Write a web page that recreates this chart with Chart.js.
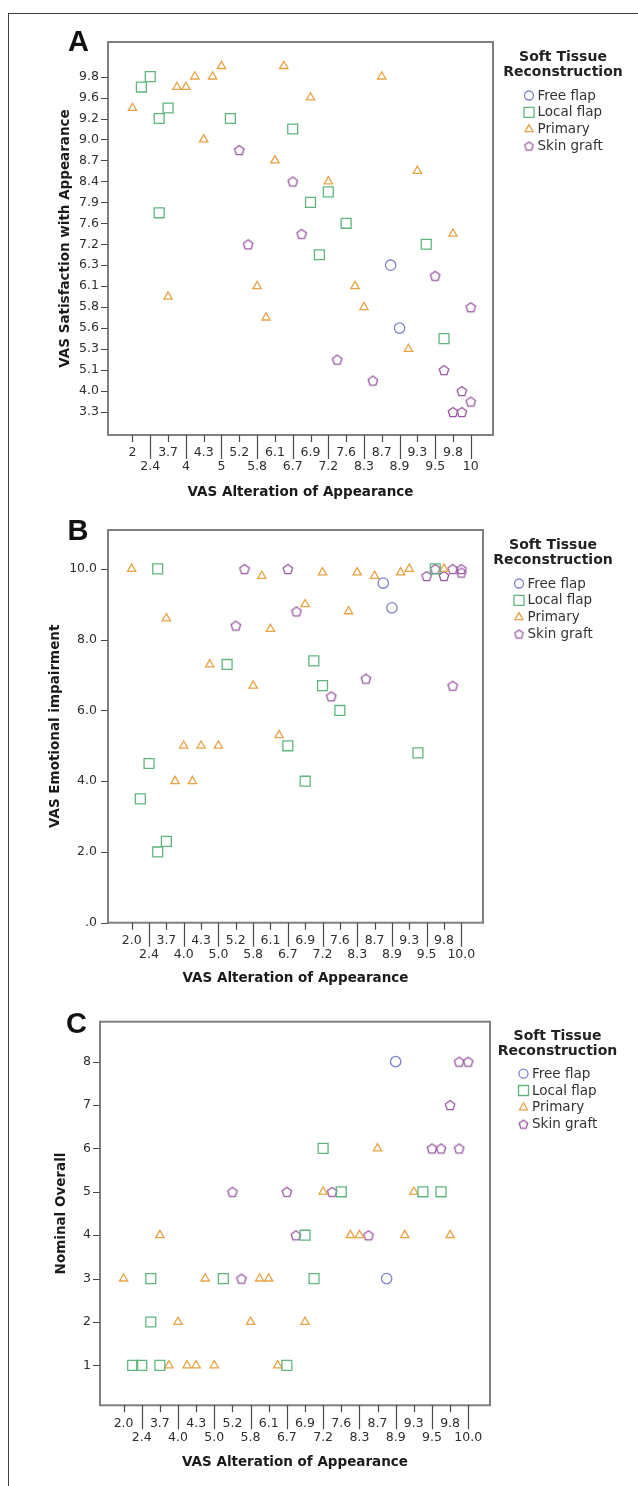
<!DOCTYPE html>
<html>
<head>
<meta charset="utf-8">
<script src="https://cdn.jsdelivr.net/npm/chart.js@4.4.1/dist/chart.umd.min.js"></script>
<style>
  body { margin: 0; background: #fff; }
  #page { position: relative; width: 638px; height: 1486px; overflow: hidden; }
  #frame { position: absolute; left: 8px; top: 13px; width: 700px; height: 1600px;
           border-left: 1.5px solid #3c3c3c; border-top: 1.5px solid #3c3c3c; }
  canvas { position: absolute; left: 0; }
</style>
</head>
<body>
<div id="page">
  <div id="frame"></div>
  <canvas id="chartA" width="638" height="500" style="top:0px"></canvas>
  <canvas id="chartB" width="638" height="486" style="top:500px"></canvas>
  <canvas id="chartC" width="638" height="484" style="top:986px"></canvas>
</div>
<script>
// x categories (VAS Alteration of Appearance); only every other one is labelled
const xCats = [2, 2.2, 2.4, 3.0, 3.7, 3.8, 4.0, 4.1, 4.3, 4.6, 5.0, 5.1, 5.2, 5.5, 5.8, 6.0, 6.1, 6.4, 6.7, 6.8,
               6.9, 7.0, 7.2, 7.4, 7.6, 8.0, 8.3, 8.5, 8.7, 8.8, 8.9, 9.1, 9.3, 9.4, 9.5, 9.6, 9.8, 9.9, 10];
// y categories of panel A (VAS Satisfaction with Appearance)
const yCatsA = [3.3, 3.6, 4.0, 4.5, 5.1, 5.2, 5.3, 5.4, 5.6, 5.7, 5.8, 6.0, 6.1, 6.2, 6.3, 6.8, 7.2, 7.4, 7.6, 7.8,
                7.9, 8.1, 8.4, 8.6, 8.7, 8.8, 9.0, 9.1, 9.2, 9.4, 9.6, 9.7, 9.8, 9.9];
const yTicksB = [0, 2, 4, 6, 8, 10];
const yTicksC = [1, 2, 3, 4, 5, 6, 7, 8];
const groups = ['Free flap', 'Local flap', 'Primary', 'Skin graft'];

// panel A  [alteration, satisfaction]
const aFree = [[8.8, 6.3], [8.9, 5.6]];
const aLocal = [[2.2, 9.7], [2.4, 9.8], [3.0, 9.2], [3.7, 9.4], [3.0, 7.8], [5.1, 9.2], [6.7, 9.1],
                [6.9, 7.9], [7.2, 8.1], [7.6, 7.6], [7.0, 6.8], [9.4, 7.2], [9.6, 5.4]];
const aPrimary = [[2, 9.4], [3.8, 9.7], [4.0, 9.7], [4.1, 9.8], [4.6, 9.8], [5.0, 9.9], [4.3, 9.0], [6.4, 9.9],
                  [6.1, 8.7], [6.9, 9.6], [8.7, 9.8], [7.2, 8.4], [9.3, 8.6], [9.8, 7.4], [3.7, 6.0], [5.8, 6.1],
                  [6.0, 5.7], [8.0, 6.1], [8.3, 5.8], [9.1, 5.3]];
const aSkin = [[5.2, 8.8], [6.7, 8.4], [6.8, 7.4], [5.5, 7.2], [7.4, 5.2], [8.5, 4.5], [9.5, 6.2], [10, 5.8],
               [9.6, 5.1], [9.9, 4.0], [10, 3.6], [9.8, 3.3], [9.9, 3.3]];

// panel B  [alteration, emotional impairment]
const bFree = [[8.8, 9.6], [8.9, 8.9]];
const bLocal = [[3.0, 10.0], [5.1, 7.3], [7.0, 7.4], [7.2, 6.7], [6.7, 5.0], [6.9, 4.0], [2.4, 4.5], [2.2, 3.5],
                [3.0, 2.0], [3.7, 2.3], [9.4, 4.8], [7.6, 6.0], [9.6, 10.0]];
const bPrimary = [[2, 10.0], [6.0, 9.8], [7.2, 9.9], [3.7, 8.6], [6.1, 8.3], [6.9, 9.0], [4.6, 7.3], [5.8, 6.7],
                  [6.4, 5.3], [8.3, 9.9], [8.7, 9.8], [9.1, 9.9], [9.3, 10.0], [8.0, 8.8], [4.0, 5.0], [4.3, 5.0],
                  [5.0, 5.0], [3.8, 4.0], [4.1, 4.0], [9.8, 10.0]];
const bSkin = [[5.5, 10.0], [6.7, 10.0], [5.2, 8.4], [6.8, 8.8], [8.5, 6.9], [7.4, 6.4], [9.9, 6.7], [9.5, 9.8],
               [9.6, 10.0], [9.8, 9.8], [9.9, 10.0], [10, 10.0], [10, 9.9]];

// panel C  [alteration, nominal overall]
const cFree = [[8.9, 8], [8.8, 3]];
const cLocal = [[7.2, 6], [7.6, 5], [9.4, 5], [9.6, 5], [6.9, 4], [3.0, 3], [5.1, 3], [7.0, 3], [3.0, 2],
                [2.2, 1], [2.4, 1], [3.7, 1], [6.7, 1]];
const cPrimary = [[8.7, 6], [7.2, 5], [9.3, 5], [3.7, 4], [8.0, 4], [8.3, 4], [9.1, 4], [9.8, 4], [2, 3], [4.6, 3],
                  [6.0, 3], [6.1, 3], [4.0, 2], [5.8, 2], [6.9, 2], [3.8, 1], [4.1, 1], [4.3, 1], [5.0, 1], [6.4, 1]];
const cSkin = [[9.9, 8], [10, 8], [9.8, 7], [9.5, 6], [9.6, 6], [9.9, 6], [5.2, 5], [6.7, 5], [7.4, 5], [6.8, 4],
               [8.5, 4], [5.5, 3]];

const tickFont = { family: "'DejaVu Sans', sans-serif", size: 12.5 };
const titleFont = { family: "'DejaVu Sans', sans-serif", size: 13.5, weight: 'bold', lineHeight: 1 };
const colors = ['#7d80cf', '#5fb67d', '#e9a244', '#9a58a3'];

function pentagon(color, r, lw) {
    const s = Math.ceil(2 * r + 4);
    const c = document.createElement('canvas');
    c.width = s; c.height = s;
    const g = c.getContext('2d');
    g.strokeStyle = color;
    g.lineWidth = lw;
    g.beginPath();
    for (let k = 0; k < 5; k++) {
        const ang = -Math.PI / 2 + k * 2 * Math.PI / 5;
        const px = s / 2 + r * Math.cos(ang);
        const py = s / 2 + r * Math.sin(ang) + r * 0.1;
        if (k) g.lineTo(px, py); else g.moveTo(px, py);
    }
    g.closePath();
    g.stroke();
    return c;
}

const marks = [
    { style: 'circle', radius: 5.2 },
    { style: 'rect', radius: 7 },
    { style: 'triangle', radius: 4.8 },
    { style: pentagon(colors[3], 5, 1.3), radius: 5 }
];
const legendPent = pentagon(colors[3], 4.5, 1.3);

function legendMark(ctx, k, x, y) {
    ctx.strokeStyle = colors[k];
    ctx.lineWidth = 1.3;
    ctx.beginPath();
    if (k === 0) {
        ctx.arc(x, y, 4.5, 0, Math.PI * 2);
    } else if (k === 1) {
        ctx.rect(x - 5, y - 5, 10, 10);
    } else if (k === 2) {
        ctx.moveTo(x, y - 4.5); ctx.lineTo(x + 4, y + 2.5); ctx.lineTo(x - 4, y + 2.5); ctx.closePath();
    } else {
        ctx.drawImage(legendPent, x - legendPent.width / 2, y - legendPent.height / 2);
        return;
    }
    ctx.stroke();
}

// frame, SPSS style tick marks, panel letter and legend
const panelDecor = {
    id: 'panelDecor',
    afterDraw(chart, args, opts) {
        const { ctx, chartArea: a, scales: { x, y } } = chart;
        ctx.save();
        ctx.strokeStyle = '#7f7f7f';
        ctx.lineWidth = 2;
        ctx.strokeRect(a.left, a.top, a.right - a.left, a.bottom - a.top);

        ctx.strokeStyle = '#4a4a4a';
        ctx.lineWidth = 1.2;
        ctx.beginPath();
        xCats.forEach((v, i) => {
            if (i % 2) return;
            const px = Math.round(x.getPixelForValue(i)) + 0.5;
            const len = (i / 2) % 2 ? 24 : 7;
            ctx.moveTo(px, a.bottom);
            ctx.lineTo(px, a.bottom + len);
        });
        y.ticks.forEach(t => {
            const py = Math.round(y.getPixelForValue(t.value)) + 0.5;
            ctx.moveTo(a.left - 7, py);
            ctx.lineTo(a.left, py);
        });
        ctx.stroke();

        ctx.fillStyle = '#111';
        ctx.font = "bold 29px 'Liberation Sans', Arial, sans-serif";
        ctx.textAlign = 'center';
        ctx.textBaseline = 'middle';
        ctx.fillText(opts.letter, opts.letterX, opts.letterY);

        const dx = opts.legendDx || 0;
        ctx.fillStyle = '#222';
        ctx.font = "bold 14px 'DejaVu Sans', sans-serif";
        ctx.fillText('Soft Tissue', a.right + 70 + dx, a.top + 15 + dx * 0.3);
        ctx.fillText('Reconstruction', a.right + 70 + dx, a.top + 30.5 + dx * 0.3);
        ctx.font = "13.5px 'DejaVu Sans', sans-serif";
        ctx.textAlign = 'left';
        groups.forEach((g, k) => {
            const ly = a.top + 53.5 + dx * 0.6 + k * 16.8;
            legendMark(ctx, k, a.right + 36 + dx, ly);
            ctx.fillStyle = '#333';
            ctx.fillText(g, a.right + 44.5 + dx, ly + 0.5);
        });
        ctx.restore();
    }
};

function xLabel(fmt) {
    return (v, i) => {
        if (i % 2) return '';
        const t = fmt(xCats[i]);
        return (i / 2) % 2 ? ['', t] : t;
    };
}

function buildPanel(id, o) {
    const datasets = o.series.map((pts, k) => ({
        label: groups[k],
        data: pts.map(p => ({ x: xCats.indexOf(p[0]), y: o.yOf(p[1]) })),
        pointStyle: marks[k].style,
        pointRadius: marks[k].radius,
        pointHoverRadius: marks[k].radius,
        pointBorderColor: colors[k],
        pointBackgroundColor: 'rgba(0,0,0,0)',
        pointBorderWidth: 1.3
    }));

    new Chart(document.getElementById(id), {
        type: 'scatter',
        data: { datasets: datasets },
        plugins: [panelDecor],
        options: {
            responsive: false,
            animation: false,
            events: [],
            layout: { padding: { left: 0, top: o.top, right: o.right, bottom: 0 } },
            plugins: {
                legend: { display: false },
                tooltip: { enabled: false },
                panelDecor: { letter: o.letter, letterX: o.letterX, letterY: o.letterY, legendDx: o.legendDx }
            },
            scales: {
                x: {
                    type: 'linear',
                    min: o.xMin,
                    max: o.xMax,
                    afterBuildTicks: s => { s.ticks = xCats.map((v, i) => ({ value: i })); },
                    afterFit: s => { s.height = o.xHeight; },
                    grid: { display: false, drawTicks: false },
                    border: { display: false },
                    ticks: {
                        autoSkip: false, maxRotation: 0, minRotation: 0, padding: 11,
                        color: '#2e2e2e', font: { ...tickFont, lineHeight: 1.12 },
                        callback: xLabel(o.xFmt)
                    },
                    title: { display: true, text: 'VAS Alteration of Appearance', color: '#1a1a1a',
                             font: titleFont, padding: { top: 0, bottom: 1 } }
                },
                y: {
                    type: 'linear',
                    min: o.yMin,
                    max: o.yMax,
                    afterBuildTicks: s => { s.ticks = o.yTicks.map(v => ({ value: v })); },
                    afterFit: s => { s.width = o.yWidth; },
                    grid: { display: false, drawTicks: false },
                    border: { display: false },
                    ticks: { autoSkip: false, padding: o.yPad, color: '#2e2e2e', font: tickFont, callback: o.yLabel },
                    title: { display: true, text: o.yTitle, color: '#1a1a1a',
                             font: titleFont, padding: { top: o.yTitlePad, bottom: 0 } }
                }
            }
        }
    });
}

buildPanel('chartA', {
    letter: 'A', letterX: 78.5, letterY: 43,
    series: [aFree, aLocal, aPrimary, aSkin],
    yOf: v => yCatsA.indexOf(v),
    yTicks: yCatsA.map((v, i) => i).filter(i => i % 2 === 0),
    yLabel: v => yCatsA[v].toFixed(1),
    yMin: -2.2, yMax: 35.3, yWidth: 108, yPad: 9, yTitlePad: 58.5,
    yTitle: 'VAS Satisfaction with Appearance',
    xMin: -2.75, xMax: 40.5, xHeight: 65, xFmt: v => String(v),
    top: 42, right: 145
});

buildPanel('chartB', {
    letter: 'B', letterX: 78, letterY: 32,
    series: [bFree, bLocal, bPrimary, bSkin],
    yOf: v => v,
    yTicks: yTicksB,
    yLabel: v => (v === 0 ? '.0' : v.toFixed(1)),
    yMin: 0, yMax: 11.1, yWidth: 108, yPad: 11, yTitlePad: 49,
    yTitle: 'VAS Emotional impairment',
    xMin: -2.73, xMax: 40.5, xHeight: 63.3, xFmt: v => v.toFixed(1),
    top: 30, right: 155
});

buildPanel('chartC', {
    letter: 'C', letterX: 76.5, letterY: 39,
    series: [cFree, cLocal, cPrimary, cSkin],
    yOf: v => v,
    yTicks: yTicksC,
    yLabel: v => String(v),
    yMin: 0.08, yMax: 8.92, yWidth: 100, yPad: 9, yTitlePad: 55,
    yTitle: 'Nominal Overall',
    xMin: -2.6, xMax: 40.4, xHeight: 64.7, xFmt: v => v.toFixed(1),
    top: 35.7, right: 148, legendDx: -2.5
});
</script>
</body>
</html>
